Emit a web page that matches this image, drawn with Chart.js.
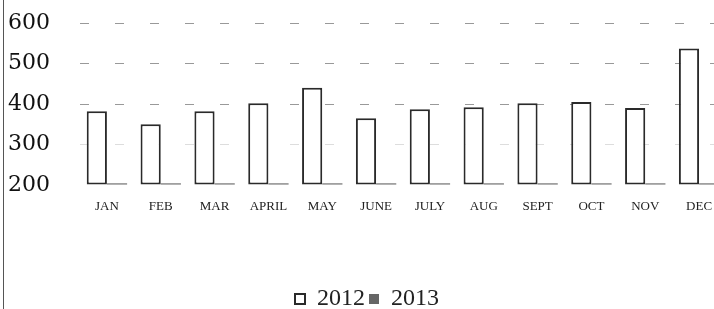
<!DOCTYPE html>
<html>
<head>
<meta charset="utf-8">
<script src="https://cdn.jsdelivr.net/npm/chart.js@4"></script>
<style>
  html, body { margin: 0; padding: 0; background: #fff; overflow: hidden; }
  #wrap { position: relative; width: 730px; height: 321px; }
  #edge { position: absolute; left: 3px; top: 0; width: 1px; height: 321px; background: #555; }
</style>
</head>
<body>
<div id="wrap">
  <div id="edge"></div>
  <canvas id="chart" width="730" height="321"></canvas>
</div>
<script>
// Ventas mensuales 2012 vs 2013
const months = ['JAN', 'FEB', 'MAR', 'APRIL', 'MAY', 'JUNE', 'JULY', 'AUG', 'SEPT', 'OCT', 'NOV', 'DEC'];
const sales2012 = [382, 350, 382, 402, 440, 365, 387, 392, 402, 405, 390, 537];
const sales2013 = [204, 204, 204, 204, 204, 204, 204, 204, 204, 204, 204, 204];
const yTicks = [200, 300, 400, 500, 600];

const serif = '"Liberation Serif", "DejaVu Serif", serif';

const ctx = document.getElementById('chart').getContext('2d');
new Chart(ctx, {
  type: 'bar',
  data: {
    labels: months,
    datasets: [
      {
        label: '2012',
        data: sales2012,
        base: 200,
        backgroundColor: '#ffffff',
        borderColor: '#2a2a2a',
        borderWidth: 2,
        borderSkipped: false,
      },
      {
        label: '2013',
        data: sales2013,
        base: 200,
        backgroundColor: '#666666',
        borderWidth: 0,
      }
    ]
  },
  options: {
    responsive: false,
    animation: false,
    layout: { padding: { left: 8, right: 4, top: 23, bottom: 0 } },
    datasets: {
      bar: { categoryPercentage: 0.75, barPercentage: 1 }
    },
    plugins: {
      legend: {
        position: 'bottom',
        labels: {
          color: '#222',
          font: { family: serif, size: 24 },
          boxWidth: 10,
          boxHeight: 10,
          padding: 4,
        }
      },
      tooltip: { enabled: false },
    },
    scales: {
      x: {
        grid: { display: false, drawTicks: false },
        border: { display: false },
        ticks: {
          color: '#222',
          font: { family: serif, size: 13 },
          padding: 14,
          maxRotation: 0,
          autoSkip: false,
        },
        afterFit: (scale) => { scale.height = 98; },
      },
      y: {
        min: 200,
        max: 600,
        afterBuildTicks: (scale) => { scale.ticks = yTicks.map(v => ({ value: v })); },
        grid: {
          drawTicks: false,
          color: (c) => {
            if (c.tick.value === 200) return 'rgba(0,0,0,0)';
            if (c.tick.value === 300) return 'rgba(120,120,120,0.25)';
            return '#999999';
          },
          lineWidth: 1,
        },
        border: { display: false, dash: [9, 26] },
        ticks: {
          color: '#111',
          font: { family: '"DejaVu Serif", serif', size: 22 },
          crossAlign: 'far',
          padding: 0,
        },
        afterFit: (scale) => { scale.width = 72; },
      }
    }
  }
});
</script>
</body>
</html>
